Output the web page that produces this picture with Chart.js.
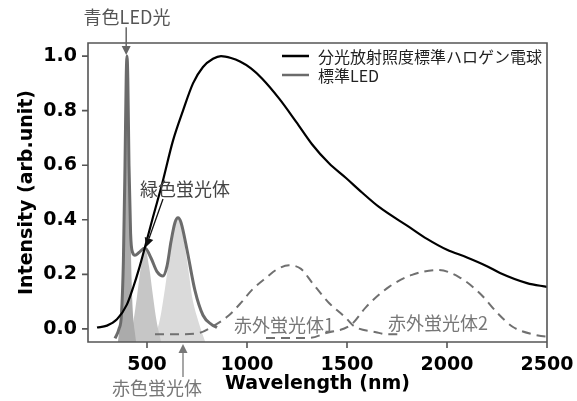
<!DOCTYPE html>
<html lang="ja">
<head>
<meta charset="UTF-8">
<title>Halogen vs LED spectrum</title>
<script src="https://cdn.jsdelivr.net/npm/chart.js@4.4.1/dist/chart.umd.min.js"></script>
<style>
  html, body { margin: 0; padding: 0; background: #fff; }
  #wrap { width: 577px; height: 401px; }
</style>
</head>
<body>
<div id="wrap"><canvas id="chart" width="577" height="401"></canvas></div>
<script>
// wavelength (nm) / intensity pairs
const halogenX = [250, 300, 350, 400, 430, 460, 490, 530, 575, 630, 680, 730, 780, 830, 870, 920, 965, 1020, 1075, 1160, 1245, 1325, 1410, 1495, 1575, 1660, 1810, 1900, 2000, 2100, 2200, 2265, 2400, 2500];
const halogenY = [0.005, 0.012, 0.035, 0.09, 0.15, 0.22, 0.30, 0.41, 0.53, 0.69, 0.80, 0.90, 0.96, 0.99, 1.0, 0.993, 0.98, 0.955, 0.918, 0.845, 0.76, 0.677, 0.607, 0.553, 0.5, 0.447, 0.374, 0.33, 0.29, 0.262, 0.23, 0.205, 0.168, 0.154];

const ledX = [340, 360, 372, 382, 390, 396, 400, 404, 410, 418, 428, 440, 460, 490, 520, 550, 580, 600, 620, 640, 655, 670, 700, 740, 780, 825, 850];
const ledY = [-0.035, 0.0, 0.05, 0.25, 0.6, 0.92, 1.0, 0.92, 0.6, 0.35, 0.28, 0.27, 0.28, 0.297, 0.26, 0.21, 0.194, 0.23, 0.32, 0.39, 0.407, 0.39, 0.29, 0.14, 0.05, 0.015, 0.005];

const ir1X = [540, 650, 760, 830, 910, 975, 1025, 1100, 1145, 1210, 1270, 1325, 1410, 1495, 1535, 1645, 1700, 1775];
const ir1Y = [-0.02, -0.02, -0.015, 0.01, 0.05, 0.10, 0.143, 0.19, 0.216, 0.233, 0.22, 0.17, 0.095, 0.04, 0.01, -0.012, -0.02, -0.02];

const ir2X = [1095, 1200, 1310, 1395, 1520, 1595, 1710, 1825, 1955, 2060, 2165, 2250, 2330, 2430, 2500, 2650];
const ir2Y = [-0.033, -0.033, -0.033, -0.015, 0.015, 0.08, 0.154, 0.198, 0.216, 0.19, 0.13, 0.06, 0.007, -0.02, -0.028, -0.03];

// phosphor / chip components (shaded)
const blueX = [355, 370, 382, 392, 400, 408, 418, 430, 445];
const blueY = [-0.045, 0.05, 0.35, 0.85, 1.0, 0.85, 0.35, 0.05, -0.045];
const greenX = [410, 430, 450, 470, 490, 510, 530, 550, 570];
const greenY = [-0.045, 0.02, 0.12, 0.23, 0.297, 0.23, 0.12, 0.02, -0.045];
const redX = [530, 560, 580, 600, 620, 640, 655, 670, 690, 710, 730, 760, 790];
const redY = [-0.045, 0.02, 0.1, 0.2, 0.3, 0.38, 0.407, 0.38, 0.3, 0.2, 0.1, 0.02, -0.045];

const xTicks = [500, 1000, 1500, 2000, 2500];
const yTicks = [0.0, 0.2, 0.4, 0.6, 0.8, 1.0];
const legendLabels = ['分光放射照度標準ハロゲン電球', '標準LED'];

const pts = (xs, ys) => xs.map((x, i) => ({x: x, y: ys[i]}));
const CJK = '"Noto Sans CJK JP", "Noto Sans", sans-serif';
const LAT = '"DejaVu Sans", sans-serif';

function arrow(ctx, x1, y1, x2, y2, color, w) {
  const a = Math.atan2(y2 - y1, x2 - x1), L = 9, H = 4.5;
  const bx = x2 - L * Math.cos(a), by = y2 - L * Math.sin(a);
  ctx.strokeStyle = color; ctx.fillStyle = color; ctx.lineWidth = w;
  ctx.beginPath(); ctx.moveTo(x1, y1); ctx.lineTo(bx, by); ctx.stroke();
  ctx.beginPath();
  ctx.moveTo(x2, y2);
  ctx.lineTo(bx + H * Math.sin(a), by - H * Math.cos(a));
  ctx.lineTo(bx - H * Math.sin(a), by + H * Math.cos(a));
  ctx.closePath(); ctx.fill();
}

const extras = {
  id: 'extras',
  afterDatasetsDraw(chart) {
    const {ctx} = chart;
    const a = chart.chartArea;
    const X = v => chart.scales.x.getPixelForValue(v);
    const Y = v => chart.scales.y.getPixelForValue(v);
    ctx.save();
    // box round the plot + outward ticks
    ctx.strokeStyle = '#555'; ctx.lineWidth = 1.6;
    ctx.beginPath();
    ctx.rect(a.left, a.top, a.right - a.left, a.bottom - a.top);
    xTicks.forEach(v => { ctx.moveTo(X(v), a.bottom); ctx.lineTo(X(v), a.bottom + 6); });
    yTicks.forEach(v => { ctx.moveTo(a.left, Y(v)); ctx.lineTo(a.left - 6, Y(v)); });
    ctx.stroke();
    // legend
    const rows = ['#000', '#6b6b6b'];
    ctx.font = '16px ' + CJK; ctx.textBaseline = 'middle'; ctx.textAlign = 'left';
    legendLabels.forEach((t, i) => {
      const y = 56 + i * 19;
      ctx.strokeStyle = rows[i]; ctx.lineWidth = 2.5;
      ctx.beginPath(); ctx.moveTo(282, y); ctx.lineTo(309, y); ctx.stroke();
      ctx.fillStyle = '#222'; ctx.fillText(t, 318, y + 1);
    });
    // annotations
    ctx.font = '18px ' + CJK; ctx.textAlign = 'center';
    ctx.fillStyle = '#555'; ctx.fillText('青色LED光', X(400), Y(1.143));
    arrow(ctx, X(396), Y(1.106), X(396), Y(1.004), '#666', 1.5);
    ctx.fillStyle = '#444'; ctx.fillText('緑色蛍光体', X(690), Y(0.513));
    arrow(ctx, X(580), Y(0.476), X(495), Y(0.30), '#111', 1.3);
    ctx.fillStyle = '#777'; ctx.fillText('赤色蛍光体', X(550), Y(-0.216));
    arrow(ctx, X(680), Y(-0.176), X(680), Y(-0.055), '#777', 1.3);
    ctx.fillStyle = '#777';
    ctx.fillText('赤外蛍光体1', X(1185), Y(0.015));
    ctx.fillText('赤外蛍光体2', X(1955), Y(0.022));
    ctx.restore();
  }
};

const lineBase = {pointRadius: 0, cubicInterpolationMode: 'monotone', fill: false};
const fillBase = {pointRadius: 0, tension: 0.35, fill: 'start', borderWidth: 0};
const axisFont = {family: LAT, size: 19, weight: 'bold'};

new Chart(document.getElementById('chart'), {
  type: 'line',
  data: {
    datasets: [
      Object.assign({label: legendLabels[0], data: pts(halogenX, halogenY), borderColor: '#000', borderWidth: 2.2}, lineBase),
      Object.assign({label: legendLabels[1], data: pts(ledX, ledY), borderColor: '#6b6b6b', borderWidth: 3}, lineBase),
      Object.assign({label: '赤外蛍光体1', data: pts(ir1X, ir1Y), borderColor: '#707070', borderWidth: 2, borderDash: [9, 6]}, lineBase),
      Object.assign({label: '赤外蛍光体2', data: pts(ir2X, ir2Y), borderColor: '#707070', borderWidth: 2, borderDash: [9, 6], clip: {left: 0, top: 0, bottom: 0, right: 40}}, lineBase),
      Object.assign({label: '青色LED光', data: pts(blueX, blueY), backgroundColor: '#ababab', borderColor: '#ababab'}, fillBase),
      Object.assign({label: '緑色蛍光体', data: pts(greenX, greenY), backgroundColor: '#c6c6c6', borderColor: '#c6c6c6'}, fillBase),
      Object.assign({label: '赤色蛍光体', data: pts(redX, redY), backgroundColor: '#dadada', borderColor: '#dadada'}, fillBase)
    ]
  },
  options: {
    responsive: false,
    animation: false,
    layout: {padding: {top: 43, right: 30, left: 0, bottom: 0}},
    plugins: {legend: {display: false}, tooltip: {enabled: false}},
    scales: {
      x: {
        type: 'linear', min: 205, max: 2500,
        afterBuildTicks: s => { s.ticks = xTicks.map(v => ({value: v})); },
        afterFit: s => { s.height = 59; s.paddingLeft = 0; s.paddingRight = 0; },
        grid: {display: false, drawTicks: false},
        border: {display: false},
        ticks: {font: axisFont, color: '#000', padding: 12, maxRotation: 0, callback: v => String(v)},
        title: {display: true, text: 'Wavelength (nm)', font: axisFont, color: '#000', padding: {top: 0, bottom: 6}}
      },
      y: {
        min: -0.048, max: 1.048,
        afterBuildTicks: s => { s.ticks = yTicks.map(v => ({value: v})); },
        afterFit: s => { s.width = 88; s.paddingTop = 0; s.paddingBottom = 0; },
        grid: {display: false, drawTicks: false},
        border: {display: false},
        ticks: {font: axisFont, color: '#000', padding: 11, callback: v => Number(v).toFixed(1)},
        title: {display: true, text: 'Intensity (arb.unit)', font: axisFont, color: '#000', padding: {top: 16, bottom: 0}}
      }
    }
  },
  plugins: [extras]
});
</script>
</body>
</html>
